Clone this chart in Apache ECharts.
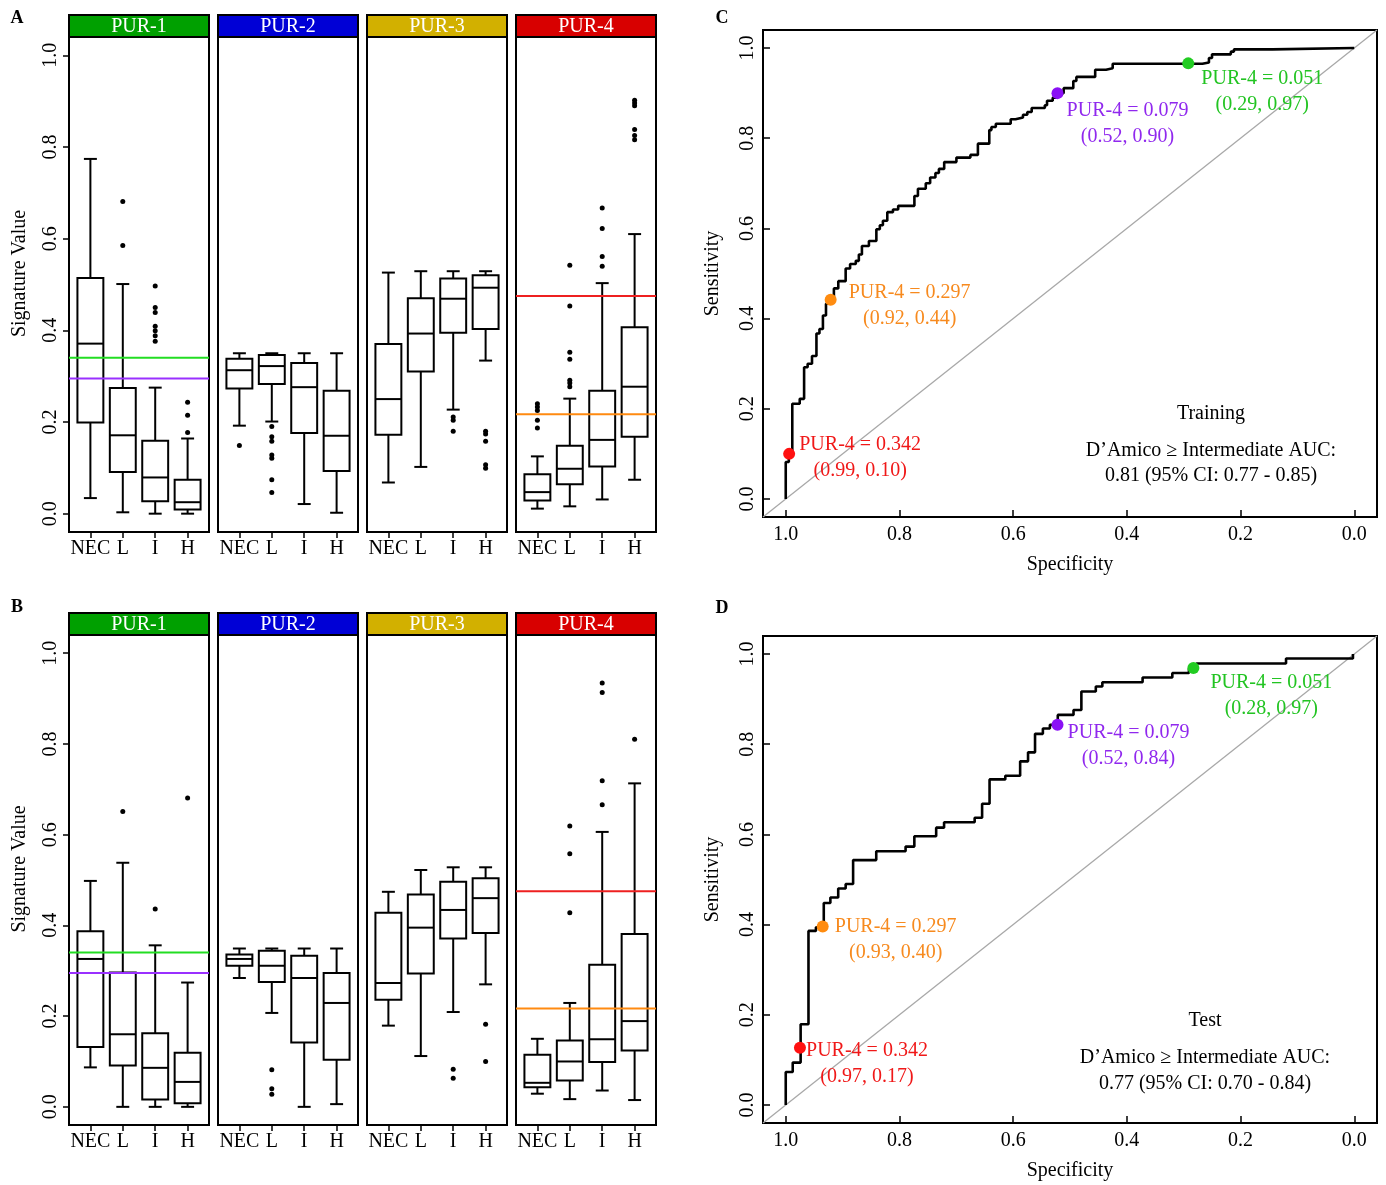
<!DOCTYPE html>
<html><head><meta charset="utf-8">
<script src="https://cdn.jsdelivr.net/npm/echarts@6/dist/echarts.min.js"></script>
<style>html,body{margin:0;padding:0;background:#fff}#c{width:1386px;height:1185px}</style>
</head><body><div id="c"></div><script>
const FONT = '"Liberation Serif", "Times New Roman", serif';
const categories = ['NEC', 'L', 'I', 'H'];
const signatures = ['PUR-1', 'PUR-2', 'PUR-3', 'PUR-4'];
const yTicks = [0, 0.2, 0.4, 0.6, 0.8, 1.0];
const rocTicks = [0, 0.2, 0.4, 0.6, 0.8, 1.0];

// box stats per category: [lower whisker, Q1, median, Q3, upper whisker]
const trainPUR1 = [[0.034, 0.199, 0.371, 0.514, 0.774], [0.003, 0.091, 0.171, 0.274, 0.501], [0.0, 0.027, 0.079, 0.159, 0.275], [0.0, 0.009, 0.025, 0.074, 0.164]];
const trainPUR2 = [[0.192, 0.273, 0.313, 0.338, 0.350], [0.201, 0.283, 0.322, 0.346, 0.350], [0.021, 0.176, 0.276, 0.329, 0.350], [0.002, 0.093, 0.170, 0.268, 0.350]];
const trainPUR3 = [[0.068, 0.172, 0.250, 0.370, 0.526], [0.102, 0.310, 0.393, 0.470, 0.529], [0.227, 0.395, 0.469, 0.513, 0.529], [0.334, 0.403, 0.493, 0.520, 0.529]];
const trainPUR4 = [[0.011, 0.029, 0.047, 0.086, 0.125], [0.016, 0.064, 0.098, 0.148, 0.251], [0.031, 0.103, 0.161, 0.268, 0.503], [0.074, 0.168, 0.277, 0.407, 0.610]];
const trainPUR1Out = [[], [0.681, 0.585], [0.497, 0.450, 0.439, 0.409, 0.399, 0.388, 0.376], [0.243, 0.215, 0.177]];
const trainPUR2Out = [[0.149], [0.190, 0.168, 0.158, 0.128, 0.121, 0.074, 0.046], [], []];
const trainPUR3Out = [[], [], [0.211, 0.204, 0.180], [0.180, 0.174, 0.158, 0.107, 0.099]];
const trainPUR4Out = [[0.240, 0.233, 0.225, 0.204, 0.187], [0.542, 0.453, 0.352, 0.337, 0.291, 0.285, 0.277], [0.667, 0.622, 0.561, 0.540], [0.902, 0.896, 0.890, 0.838, 0.825, 0.816]];

const testPUR1 = [[0.087, 0.132, 0.326, 0.387, 0.498], [0.0, 0.091, 0.160, 0.296, 0.538], [0.0, 0.016, 0.086, 0.162, 0.356], [0.0, 0.008, 0.055, 0.119, 0.274]];
const testPUR2 = [[0.284, 0.311, 0.326, 0.336, 0.349], [0.207, 0.275, 0.311, 0.344, 0.349], [0.0, 0.142, 0.284, 0.333, 0.349], [0.006, 0.104, 0.229, 0.295, 0.349]];
const testPUR3 = [[0.179, 0.236, 0.273, 0.428, 0.474], [0.112, 0.294, 0.395, 0.468, 0.522], [0.209, 0.371, 0.434, 0.496, 0.528], [0.270, 0.383, 0.460, 0.504, 0.528]];
const testPUR4 = [[0.029, 0.043, 0.053, 0.115, 0.150], [0.017, 0.058, 0.100, 0.146, 0.229], [0.036, 0.099, 0.149, 0.313, 0.606], [0.015, 0.124, 0.189, 0.381, 0.713]];
const testPUR1Out = [[], [0.651], [0.436], [0.681]];
const testPUR2Out = [[], [0.082, 0.040, 0.028], [], []];
const testPUR3Out = [[], [], [0.083, 0.063], [0.182, 0.100]];
const testPUR4Out = [[], [0.619, 0.558, 0.428], [0.934, 0.913, 0.719, 0.666], [0.810]];

// horizontal cutoff lines drawn in the PUR-1 and PUR-4 panels
const pur1Cuts = [0.340, 0.295];
const pur4Cuts = [0.475, 0.217];

// ROC curves (specificity, sensitivity) at step corners
const rocTrainSpec = [1.0, 1.0, 0.9946, 0.9885, 0.9754, 0.9677, 0.9615, 0.9538, 0.946, 0.9407, 0.9346, 0.9292, 0.9215, 0.9153, 0.9076, 0.8946, 0.8868, 0.8768, 0.8714, 0.866, 0.8537, 0.8406, 0.8345, 0.8291, 0.8214, 0.8114, 0.8022, 0.7737, 0.7675, 0.7537, 0.746, 0.7367, 0.7306, 0.7213, 0.6998, 0.6752, 0.662, 0.642, 0.6382, 0.6305, 0.6043, 0.5958, 0.5827, 0.5751, 0.5674, 0.5443, 0.5404, 0.5304, 0.5227, 0.5112, 0.4942, 0.4888, 0.4557, 0.4365, 0.4249, 0.2671, 0.2556, 0.2502, 0.2171, 0.2117, 0.144, 0.0];
const rocTrainSens = [0, 0.082, 0.10, 0.211, 0.222, 0.292, 0.30, 0.317, 0.367, 0.377, 0.407, 0.433, 0.44, 0.467, 0.483, 0.511, 0.521, 0.528, 0.542, 0.561, 0.572, 0.598, 0.607, 0.617, 0.636, 0.642, 0.65, 0.672, 0.688, 0.70, 0.713, 0.723, 0.732, 0.747, 0.757, 0.763, 0.788, 0.818, 0.825, 0.832, 0.842, 0.846, 0.852, 0.858, 0.867, 0.873, 0.883, 0.89, 0.90, 0.911, 0.927, 0.936, 0.952, 0.955, 0.965, 0.968, 0.978, 0.986, 0.992, 0.997, 1.0, 1.0];
const rocTestSpec = [1.0, 1.0, 0.9877, 0.9738, 0.96, 0.9469, 0.9331, 0.9215, 0.9077, 0.8946, 0.8815, 0.8408, 0.7892, 0.7738, 0.7354, 0.7215, 0.6677, 0.6546, 0.6415, 0.6138, 0.5877, 0.5738, 0.5615, 0.5477, 0.5354, 0.5215, 0.4938, 0.48, 0.4546, 0.4431, 0.3723, 0.32, 0.2908, 0.2777, 0.12, 0.0023];
const rocTestSens = [0, 0.073, 0.094, 0.179, 0.386, 0.394, 0.448, 0.46, 0.48, 0.49, 0.543, 0.5625, 0.573, 0.596, 0.615, 0.627, 0.637, 0.668, 0.722, 0.73, 0.762, 0.782, 0.823, 0.835, 0.843, 0.865, 0.876, 0.917, 0.928, 0.9375, 0.948, 0.958, 0.968, 0.979, 0.99, 1.0];

// cutoff points
const cutLabels = ['PUR-4 = 0.342', 'PUR-4 = 0.297', 'PUR-4 = 0.079', 'PUR-4 = 0.051'];
const cutTrainSpec = [0.994, 0.921, 0.522, 0.292];
const cutTrainSens = [0.100, 0.442, 0.900, 0.966];
const cutTrainText = ['(0.99, 0.10)', '(0.92, 0.44)', '(0.52, 0.90)', '(0.29, 0.97)'];
const cutTestSpec = [0.975, 0.935, 0.522, 0.283];
const cutTestSens = [0.127, 0.396, 0.843, 0.969];
const cutTestText = ['(0.97, 0.17)', '(0.93, 0.40)', '(0.52, 0.84)', '(0.28, 0.97)'];
const trainNote = ['Training', 'D\u2019Amico \u2265 Intermediate AUC:', '0.81 (95% CI: 0.77 - 0.85)'];
const testNote = ['Test', 'D\u2019Amico \u2265 Intermediate AUC:', '0.77 (95% CI: 0.70 - 0.84)'];

// ---------- styles / layout ----------
const stripColors = ['#00a000', '#0000d6', '#d2b000', '#d80000'];
const cutDotColors = ['#ff1010', '#ff8c10', '#8a10f5', '#22cc22'];
const cutTextColors = ['#f01818', '#f78a1e', '#9028ee', '#22c422'];
const pur1LineColors = ['#22dd22', '#9a30ff'];
const pur4LineColors = ['#ee2020', '#ff8a10'];
const trainLabelOffsets = [[71, 4], [79, 6], [70, 31], [74, 28]];
const testLabelOffsets = [[67, 16], [73, 13], [71, 21], [78, 28]];
const boxLeft = [69, 218, 367, 516];
const boxW = 140;
const rowsLayout = [{top: 37, height: 495, stripTop: 15}, {top: 635, height: 490, stripTop: 613}];
const rocLayout = [{left: 763, top: 30, width: 614, height: 487}, {left: 763, top: 636, width: 614, height: 487}];

const trainStats = [trainPUR1, trainPUR2, trainPUR3, trainPUR4];
const trainOuts = [trainPUR1Out, trainPUR2Out, trainPUR3Out, trainPUR4Out];
const testStats = [testPUR1, testPUR2, testPUR3, testPUR4];
const testOuts = [testPUR1Out, testPUR2Out, testPUR3Out, testPUR4Out];

const grids = [], xAxes = [], yAxes = [], series = [], graphics = [];

function renderBox(params, api) {
  const x = api.value(0);
  const pLo = api.coord([x, api.value(1)]);
  const pQ1 = api.coord([x, api.value(2)]);
  const pMd = api.coord([x, api.value(3)]);
  const pQ3 = api.coord([x, api.value(4)]);
  const pHi = api.coord([x, api.value(5)]);
  const half = api.size([0.4, 0])[0];
  const cap = api.size([0.2, 0])[0];
  const st = {stroke: '#000', lineWidth: 2, fill: null};
  return {type: 'group', children: [
    {type: 'line', shape: {x1: pLo[0], y1: pLo[1], x2: pQ1[0], y2: pQ1[1]}, style: st},
    {type: 'line', shape: {x1: pQ3[0], y1: pQ3[1], x2: pHi[0], y2: pHi[1]}, style: st},
    {type: 'line', shape: {x1: pLo[0] - cap, y1: pLo[1], x2: pLo[0] + cap, y2: pLo[1]}, style: st},
    {type: 'line', shape: {x1: pHi[0] - cap, y1: pHi[1], x2: pHi[0] + cap, y2: pHi[1]}, style: st},
    {type: 'rect', shape: {x: pQ3[0] - half, y: pQ3[1], width: 2 * half, height: pQ1[1] - pQ3[1]}, style: {stroke: '#000', lineWidth: 2, fill: '#fff'}},
    {type: 'line', shape: {x1: pMd[0] - half, y1: pMd[1], x2: pMd[0] + half, y2: pMd[1]}, style: st}
  ]};
}

const datasets = [[trainStats, trainOuts], [testStats, testOuts]];
datasets.forEach(function (ds, r) {
  const lay = rowsLayout[r];
  for (let c = 0; c < 4; c++) {
    const g = grids.length;
    grids.push({left: boxLeft[c], top: lay.top, width: boxW, height: lay.height, show: true, borderColor: '#000', borderWidth: 2, backgroundColor: 'transparent'});
    xAxes.push({type: 'value', gridIndex: g, position: 'bottom', min: 0.34, max: 4.66, axisLine: {show: false, onZero: false}, splitLine: {show: false},
      axisTick: {show: true, customValues: [1, 2, 3, 4], length: 6, lineStyle: {color: '#000', width: 1.5}},
      axisLabel: {show: true, customValues: [1, 2, 3, 4], formatter: function (v) { return categories[Math.round(v) - 1]; }, margin: 7, fontSize: 20, fontFamily: FONT, color: '#000'}});
    yAxes.push({type: 'value', gridIndex: g, position: 'left', min: -0.04, max: 1.04, axisLine: {show: false, onZero: false}, splitLine: {show: false},
      axisTick: {show: c === 0, customValues: yTicks, length: 6, lineStyle: {color: '#000', width: 1.5}},
      axisLabel: {show: c === 0, customValues: yTicks, rotate: 90, margin: 8, formatter: function (v) { return v.toFixed(1); }, fontSize: 20, fontFamily: FONT, color: '#000'}});
    const stats = ds[0][c], outs = ds[1][c];
    series.push({type: 'custom', xAxisIndex: g, yAxisIndex: g, renderItem: renderBox, encode: {x: 0, y: [1, 2, 3, 4, 5]},
      data: stats.map(function (s, i) { return [i + 1].concat(s); }), z: 2, silent: true});
    const pts = [];
    outs.forEach(function (arr, i) { arr.forEach(function (v) { pts.push([i + 1, v]); }); });
    series.push({type: 'scatter', xAxisIndex: g, yAxisIndex: g, data: pts, symbolSize: 5, itemStyle: {color: '#000', opacity: 1}, z: 3, silent: true});
    let cuts = null, cols = null;
    if (c === 0) { cuts = pur1Cuts; cols = pur1LineColors; }
    if (c === 3) { cuts = pur4Cuts; cols = pur4LineColors; }
    if (cuts) {
      cuts.forEach(function (v, k) {
        series.push({type: 'line', xAxisIndex: g, yAxisIndex: g, data: [[0.34, v], [4.66, v]], symbol: 'none', lineStyle: {color: cols[k], width: 2}, z: 4, silent: true});
      });
    }
    // strip
    graphics.push({type: 'rect', shape: {x: boxLeft[c], y: lay.stripTop, width: boxW, height: lay.top - lay.stripTop}, style: {fill: stripColors[c], stroke: '#000', lineWidth: 2}, z: 10});
    graphics.push({type: 'text', x: boxLeft[c] + boxW / 2, y: (lay.stripTop + lay.top) / 2 + 1, style: {text: signatures[c], fill: '#fff', fontSize: 20, fontFamily: FONT, align: 'center', verticalAlign: 'middle'}, z: 11});
  }
  graphics.push({type: 'text', x: 20, y: (lay.stripTop + lay.top + lay.height) / 2, rotation: Math.PI / 2, style: {text: 'Signature Value', fill: '#000', fontSize: 20, fontFamily: FONT, align: 'center', verticalAlign: 'middle'}});
});

const rocSets = [
  [rocTrainSpec, rocTrainSens, cutTrainSpec, cutTrainSens, cutTrainText, trainLabelOffsets, trainNote],
  [rocTestSpec, rocTestSens, cutTestSpec, cutTestSens, cutTestText, testLabelOffsets, testNote]
];
const noteCenters = [[1211, 414, 451, 476], [1205, 1021, 1058, 1084]];
rocSets.forEach(function (rs, k) {
  const L = rocLayout[k];
  const g = grids.length;
  grids.push({left: L.left, top: L.top, width: L.width, height: L.height, show: true, borderColor: '#000', borderWidth: 2, backgroundColor: 'transparent'});
  xAxes.push({type: 'value', gridIndex: g, position: 'bottom', min: -0.04, max: 1.04, inverse: true, axisLine: {show: false, onZero: false}, splitLine: {show: false},
    name: 'Specificity', nameLocation: 'middle', nameGap: 38, nameTextStyle: {fontSize: 20, fontFamily: FONT, color: '#000'},
    axisTick: {show: true, inside: true, customValues: rocTicks, length: 7, lineStyle: {color: '#000', width: 1.5}},
    axisLabel: {customValues: rocTicks, margin: 8, formatter: function (v) { return v.toFixed(1); }, fontSize: 20, fontFamily: FONT, color: '#000'}});
  yAxes.push({type: 'value', gridIndex: g, position: 'left', min: -0.04, max: 1.04, axisLine: {show: false, onZero: false}, splitLine: {show: false},
    name: 'Sensitivity', nameLocation: 'middle', nameGap: 40, nameTextStyle: {fontSize: 20, fontFamily: FONT, color: '#000'},
    axisTick: {show: true, inside: true, customValues: rocTicks, length: 7, lineStyle: {color: '#000', width: 1.5}},
    axisLabel: {customValues: rocTicks, rotate: 90, margin: 5, formatter: function (v) { return v.toFixed(1); }, fontSize: 20, fontFamily: FONT, color: '#000'}});
  series.push({type: 'line', xAxisIndex: g, yAxisIndex: g, data: [[1.04, -0.04], [-0.04, 1.04]], symbol: 'none', lineStyle: {color: '#a8a8a8', width: 1.3}, z: 2, silent: true});
  series.push({type: 'line', xAxisIndex: g, yAxisIndex: g, step: 'end', symbol: 'none',
    data: rs[0].map(function (s, i) { return [s, rs[1][i]]; }), lineStyle: {color: '#000', width: 2.6}, z: 3, silent: true});
  series.push({type: 'scatter', xAxisIndex: g, yAxisIndex: g, symbolSize: 12, z: 5, silent: true,
    data: rs[2].map(function (s, i) {
      return {value: [s, rs[3][i]], itemStyle: {color: cutDotColors[i], opacity: 1},
        label: {show: true, position: 'inside', offset: rs[5][i], formatter: cutLabels[i] + '\n' + rs[4][i],
          color: cutTextColors[i], fontSize: 20, fontFamily: FONT, lineHeight: 26, align: 'center', verticalAlign: 'middle'}};
    })});
  const nc = noteCenters[k];
  for (let j = 0; j < 3; j++) {
    graphics.push({type: 'text', x: nc[0], y: nc[j + 1], style: {text: rs[6][j], fill: '#000', fontSize: 20, fontFamily: FONT, align: 'center', verticalAlign: 'middle'}});
  }
});

const panelLetters = [['A', 17, 18], ['B', 17, 607], ['C', 722, 18], ['D', 722, 608]];
panelLetters.forEach(function (p) {
  graphics.push({type: 'text', x: p[1], y: p[2], style: {text: p[0], fill: '#000', fontSize: 18, fontWeight: 'bold', fontFamily: FONT, align: 'center', verticalAlign: 'middle'}});
});

const chart = echarts.init(document.getElementById('c'), null, {renderer: 'canvas'});
chart.setOption({
  backgroundColor: '#fff',
  animation: false,
  grid: grids,
  xAxis: xAxes,
  yAxis: yAxes,
  series: series,
  graphic: graphics
});
</script></body></html>
